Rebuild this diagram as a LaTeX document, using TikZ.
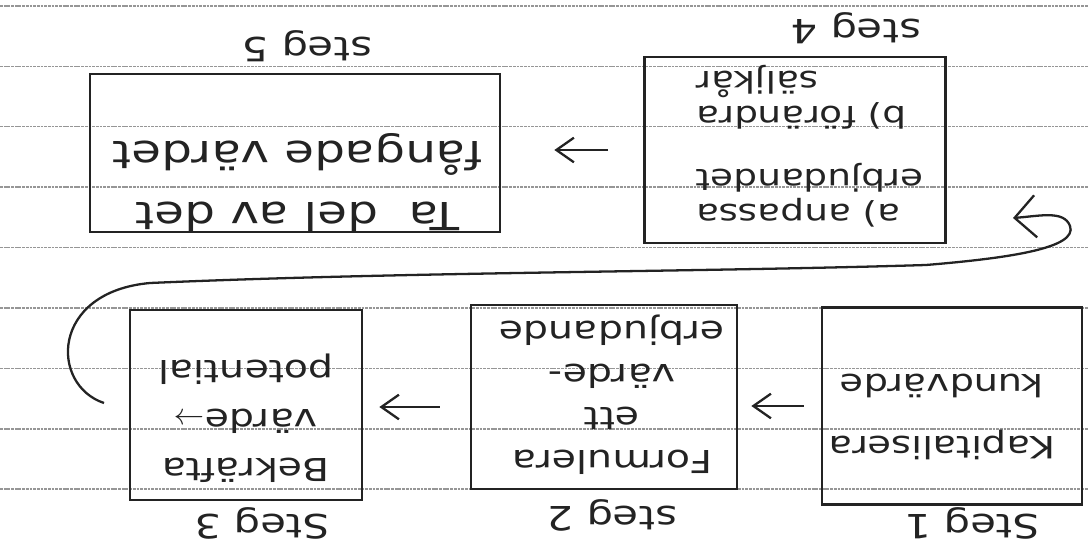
\documentclass[tikz,border=0pt]{standalone}
\usepackage{fontspec}
\setmainfont{DejaVu Sans}[FakeStretch=1.25]
\usetikzlibrary{arrows.meta, positioning, calc}
\definecolor{PenInk}{RGB}{35, 35, 35}
\definecolor{RuleGray}{RGB}{150, 150, 150}

\begin{document}
\begin{tikzpicture}[x=0.02cm, y=-0.02cm,
  ruling/.style={draw=RuleGray, line width=0.8pt, dash pattern=on 1.6pt off 0.5pt},
  stepbox/.style={draw=PenInk, line width=1.6pt, inner sep=0pt},
  hand/.style={rotate=180, text=PenInk, align=center, inner sep=0pt},
  flow/.style={draw=PenInk, line width=1.3pt, -{Straight Barb[length=10pt, width=14pt]}},
  wrap/.style={draw=PenInk, line width=1.3pt, -{Straight Barb[length=12pt, width=24pt]}}]
\fill[white] (0,0) rectangle (1088,540);
\useasboundingbox (0,0) rectangle (1088,540);
% ruled paper
\foreach \k in {0,...,8} {
  \draw[ruling] (0,{6+60.4*\k}) -- (1088,{6+60.4*\k});
}
% boxes (the sheet is upside down)
\node[stepbox, minimum width=5.2cm, minimum height=3.94cm] (b1) at (952,406) {};
\node[stepbox, minimum width=5.32cm, minimum height=3.68cm] (b2) at (604,397) {};
\node[stepbox, minimum width=4.64cm, minimum height=3.8cm] (b3) at (246,405) {};
\node[stepbox, minimum width=6.02cm, minimum height=3.72cm] (b4) at (795,150) {};
\node[stepbox, minimum width=8.2cm, minimum height=3.16cm] (b5) at (295,153) {};
% texts
\node[hand, font=\fontsize{17.5}{35}\selectfont] (t1) at (942,417) {Kapitalisera\\kundvärde};
\node[hand, font=\fontsize{18}{24.4}\selectfont] (t2) at (612,395) {Formulera\\ett\\värde-\\erbjudande};
\node[hand, font=\fontsize{18}{28}\selectfont] (t3) at (246,418) {Bekräfta\\värde$\rightarrow$\\potential};
\node[hand, align=right, font=\fontsize{17}{20}\selectfont] (t4) at (810,146)
  {a) anpassa\\erbjudandet\hspace{1em}\\[16pt]b) förändra\\säljkår};
\node[hand, font=\fontsize{22}{34.6}\selectfont] (t5) at (298,183) {Ta\ \ del av det\\fångade värdet};
% step labels
\foreach \n/\px/\py in {1/972/523, 2/612/515, 3/262/523, 4/856/28, 5/307/46} {
  \ifnum\n=1 \def\lab{Steg}\else\ifnum\n=3 \def\lab{Steg}\else\def\lab{steg}\fi\fi
  \node[hand, font=\fontsize{19}{22}\selectfont] (l\n) at (\px,\py) {\lab\ \n};
}
% arrows
\draw[flow, shorten <=0.34cm, shorten >=0.26cm] (b1.west) -- (b1.west -| b2.east);
\draw[flow, shorten <=0.6cm, shorten >=0.32cm] ([yshift=-0.2cm]b2.west) -- ([yshift=-0.2cm]b2.west -| b3.east);
\draw[flow, shorten <=0.7cm, shorten >=1.06cm] (b4.west) -- (b4.west -| b5.east);
\coordinate (loopin) at (104,403);
\coordinate (loopout) at (1013,218);
\draw[wrap] (loopin) .. controls (50,385) and (50,292) .. (150,283)
  .. controls (400,272) and (700,272) .. (926,265)
  .. controls (1010,258) and (1078,248) .. (1070,226)
  .. controls (1064,210) and (1040,216) .. (loopout);
\end{tikzpicture}
\end{document}
